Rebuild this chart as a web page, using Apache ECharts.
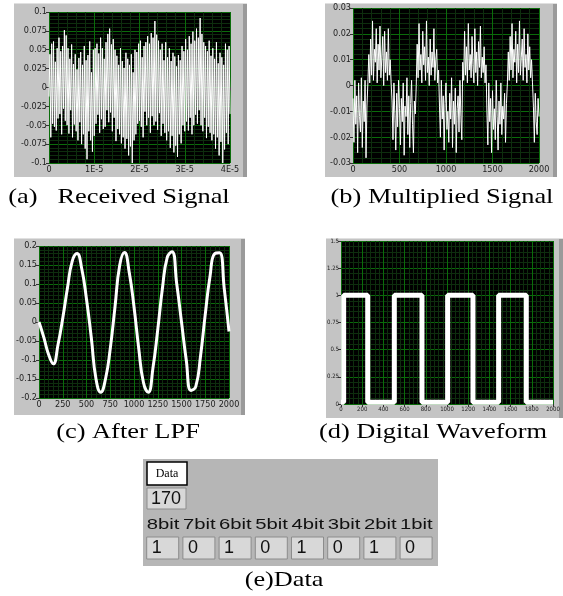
<!DOCTYPE html>
<html><head><meta charset="utf-8">
<script src="https://cdn.jsdelivr.net/npm/echarts/dist/echarts.min.js"></script>
<style>html,body{margin:0;padding:0;background:#fff}#c{width:563px;height:596px}</style>
</head><body><div id="c"></div>
<script>
// ---------- (a) Received Signal ----------
const aSampleStep = 2e-7;
const aValues = [
 -0.012, 0.044, -0.066, 0.058, -0.048, 0.061, -0.052, 0.034, -0.057, 0.052,
 -0.041, 0.066, -0.035, 0.048, -0.062, 0.055, -0.028, 0.076, -0.044, 0.069,
 -0.05, 0.052, -0.061, 0.038, -0.03, 0.057, -0.066, 0.031, -0.049, 0.044,
 -0.058, 0.024, -0.07, 0.039, -0.046, 0.047, -0.075, 0.03, -0.062, 0.055,
 -0.081, 0.036, -0.095, 0.043, -0.058, 0.061, -0.07, 0.02, -0.085, 0.05,
 -0.064, 0.052, -0.048, 0.058, -0.036, 0.045, -0.06, 0.066, -0.042, 0.052,
 -0.055, 0.038, -0.052, 0.06, -0.03, 0.071, -0.046, 0.078, -0.033, 0.057,
 -0.058, 0.064, -0.04, 0.05, -0.071, 0.042, -0.055, 0.03, -0.062, 0.052,
 -0.074, 0.035, -0.066, 0.026, -0.081, 0.046, -0.068, 0.038, -0.09, 0.03,
 -0.078, 0.044, -0.1, 0.02, -0.07, 0.05, -0.062, 0.047, -0.048, 0.058,
 -0.044, 0.062, -0.052, 0.04, -0.066, 0.055, -0.032, 0.06, -0.05, 0.068,
 -0.04, 0.058, -0.06, 0.072, -0.038, 0.066, -0.05, 0.088, -0.045, 0.07,
 -0.056, 0.062, -0.034, 0.05, -0.064, 0.058, -0.048, 0.036, -0.06, 0.06,
 -0.07, 0.04, -0.058, 0.052, -0.08, 0.035, -0.064, 0.046, -0.086, 0.041,
 -0.077, 0.028, -0.092, 0.043, -0.062, 0.036, -0.074, 0.055, -0.05, 0.048,
 -0.058, 0.064, -0.045, 0.05, -0.057, 0.068, -0.04, 0.058, -0.062, 0.074,
 -0.05, 0.062, -0.036, 0.078, -0.048, 0.066, -0.03, 0.092, -0.05, 0.071,
 -0.058, 0.06, -0.04, 0.055, -0.067, 0.048, -0.052, 0.062, -0.06, 0.042,
 -0.07, 0.052, -0.062, 0.038, -0.081, 0.06, -0.066, 0.032, -0.09, 0.046,
 -0.072, 0.04, -0.1, 0.03, -0.082, 0.058, -0.06, 0.05, -0.075, 0.055, -0.035
];
const aXTickLabels = ['0', '1E-5', '2E-5', '3E-5', '4E-5'];
const aYTickLabels = ['-0.1', '-0.075', '-0.05', '-0.025', '0', '0.025', '0.05', '0.075', '0.1'];

// ---------- (b) Multiplied Signal ----------
const bSampleStep = 10;
const bValues = [
 -0.005, -0.022, 0.002, -0.015, -0.004, -0.026, 0.001, -0.012, -0.018, 0.003, -0.024, -0.006, -0.014, 0.002, -0.028, -0.008, 0.001,
 0.012, 0.001, 0.018, 0.004, 0.025, 0.002, 0.014, 0.009, 0.022, 0.001, 0.016, 0.006, 0.023, 0.003, 0.011, 0.019, 0.0, 0.021, 0.005, 0.013, 0.002, 0.022, 0.004, 0.01, 0.001,
 -0.006, -0.021, 0.001, -0.011, -0.025, -0.003, -0.016, 0.002, -0.009, -0.023, -0.005, -0.014, 0.001, -0.027, -0.008, -0.012, 0.003, -0.019, -0.004, -0.024, -0.007, 0.002, -0.015, -0.026, -0.006, -0.011, 0.0,
 0.016, 0.003, 0.024, 0.006, 0.012, 0.001, 0.021, 0.008, 0.015, 0.002, 0.025, 0.005, 0.011, 0.0, 0.018, 0.004, 0.013, 0.007, 0.022, 0.002, 0.01, 0.014, 0.001, 0.006,
 -0.008, -0.02, 0.002, -0.013, -0.004, -0.025, -0.007, 0.001, -0.017, -0.01, -0.022, -0.003, -0.013, 0.003, -0.024, -0.006, -0.015, -0.001, -0.026, -0.009, -0.004, -0.018, 0.002, -0.012, -0.021,
 0.009, 0.002, 0.021, 0.004, 0.015, 0.001, 0.024, 0.006, 0.012, 0.003, 0.019, 0.008, 0.001, 0.022, 0.005, 0.013, 0.0, 0.017, 0.007, 0.023, 0.003, 0.011, 0.005, 0.015, 0.001, 0.008,
 -0.01, -0.023, 0.001, -0.014, -0.005, -0.026, -0.002, -0.017, -0.009, -0.021, 0.002, -0.012, -0.025, -0.006, -0.015, 0.001, -0.019, -0.008, -0.013, -0.003, -0.022, -0.007, 0.001,
 0.013, 0.002, 0.019, 0.006, 0.024, 0.003, 0.014, 0.009, 0.021, 0.001, 0.016, 0.005, 0.025, 0.004, 0.011, 0.018, 0.002, 0.022, 0.007, 0.012, 0.001, 0.02, 0.006, 0.015, 0.003, 0.01, 0.001,
 -0.008, -0.022, -0.003, -0.014, -0.019, -0.005, -0.012
];
const bXTickLabels = ['0', '500', '1000', '1500', '2000'];
const bYTickLabels = ['-0.03', '-0.02', '-0.01', '0', '0.01', '0.02', '0.03'];

// ---------- (c) After LPF ----------
const cX = [0,50,100,150,200,250,300,350,400,450,500,550,600,650,700,750,800,850,900,950,1000,
            1050,1100,1150,1200,1250,1300,1350,1400,1450,1500,1550,1600,1650,1700,1750,1800,1850,1900,1950,2000];
const cValues = [0, -0.04, -0.085, -0.11, -0.06, 0.01, 0.09, 0.16, 0.18, 0.14, 0.06, -0.04, -0.15, -0.185, -0.15, -0.07, 0.04, 0.15, 0.183, 0.13, 0.04,
                 -0.07, -0.16, -0.185, -0.12, -0.02, 0.09, 0.17, 0.185, 0.1, 0.0, -0.1, -0.18, -0.17, -0.09, 0.02, 0.12, 0.18, 0.182, 0.088, -0.025];
const cXTickLabels = ['0', '250', '500', '750', '1000', '1250', '1500', '1750', '2000'];
const cYTickLabels = ['-0.2', '-0.15', '-0.1', '-0.05', '0', '0.05', '0.1', '0.15', '0.2'];

// ---------- (d) Digital Waveform ----------
const dX = [0, 25, 25, 252, 252, 503, 503, 764, 764, 1006, 1006, 1245, 1245, 1487, 1487, 1748, 1748, 2000];
const dValues = [0.015, 0.015, 1, 1, 0.015, 0.015, 1, 1, 0.015, 0.015, 1, 1, 0.015, 0.015, 1, 1, 0.015, 0.015];
const dXTickLabels = ['0', '200', '400', '600', '800', '1000', '1200', '1400', '1600', '1800', '2000'];
const dYTickLabels = ['0', '0.25', '0.5', '0.75', '1', '1.25', '1.5'];

// ---------- (e) Data ----------
const eTitle = 'Data';
const eValue = '170';
const eBitNames = ['8bit', '7bit', '6bit', '5bit', '4bit', '3bit', '2bit', '1bit'];
const eBits = ['1', '0', '1', '0', '1', '0', '1', '0'];

const captions = ['(a)   Received Signal', '(b) Multiplied Signal', '(c) After LPF', '(d) Digital Waveform', '(e)Data'];

// ---------- build ----------
const MAJOR = '#0a6c0a', MINOR = '#0e2e0e';
const SANS = '"Liberation Sans Narrow","DejaVu Sans Condensed","Liberation Sans",Arial,sans-serif';
const SERIF = '"Liberation Serif","Times New Roman",serif';

function axisPair(gi, xr, xLabels, yr, yLabels, fs) {
  const common = {
    gridIndex: gi, type: 'value',
    axisLine: { show: false },
    axisTick: { show: true, length: 3, lineStyle: { color: '#333', width: 1 } },
    splitLine: { show: true, lineStyle: { color: MAJOR, width: 1 } },
    minorTick: { show: false, splitNumber: 5 },
    minorSplitLine: { show: true, lineStyle: { color: MINOR, width: 1 } }
  };
  const x = Object.assign({}, common, {
    min: xr[0], max: xr[1], interval: xr[2],
    axisLabel: { fontSize: fs, color: '#222', margin: 2, fontFamily: SANS, showMinLabel: true, showMaxLabel: true,
      formatter: v => xLabels[Math.round((v - xr[0]) / xr[2])] ?? '' }
  });
  const y = Object.assign({}, common, {
    min: yr[0], max: yr[1], interval: yr[2],
    axisLabel: { fontSize: fs, color: '#222', margin: 2, fontFamily: SANS, showMinLabel: true, showMaxLabel: true,
      formatter: v => yLabels[Math.round((v - yr[0]) / yr[2])] ?? '' }
  });
  return [x, y];
}

const A = axisPair(0, [0, 4e-5, 1e-5], aXTickLabels, [-0.1, 0.1, 0.025], aYTickLabels, 9);
const B = axisPair(1, [0, 2000, 500], bXTickLabels, [-0.03, 0.03, 0.01], bYTickLabels, 9);
const C = axisPair(2, [0, 2000, 250], cXTickLabels, [-0.2, 0.2, 0.05], cYTickLabels, 9);
const D = axisPair(3, [0, 2000, 200], dXTickLabels, [0, 1.5, 0.25], dYTickLabels, 6);

const gridBase = { show: true, backgroundColor: '#000', borderWidth: 0, containLabel: false };
const grids = [
  Object.assign({ left: 49, top: 12, width: 181, height: 151 }, gridBase),
  Object.assign({ left: 353, top: 8, width: 186, height: 155 }, gridBase),
  Object.assign({ left: 39, top: 246, width: 190, height: 152 }, gridBase),
  Object.assign({ left: 341, top: 241, width: 212, height: 163 }, gridBase)
];

const lineSeries = (gi, data, w, smooth) => ({
  type: 'line', xAxisIndex: gi, yAxisIndex: gi, data: data, showSymbol: false, symbol: 'none',
  smooth: smooth || false, lineStyle: { color: '#fff', width: w }, animation: false, silent: true
});

const aData = aValues.map((v, i) => [i * aSampleStep, v]);
const bData = bValues.map((v, i) => [i * bSampleStep, v]);
const cData = cValues.map((v, i) => [cX[i], v]);
const dData = dValues.map((v, i) => [dX[i], v]);

// panels + captions + data panel
const graphics = [];
function panel(x, y, w, h) {
  graphics.push({ type: 'rect', z: -10, shape: { x, y, width: w, height: h }, style: { fill: '#c4c4c4' } });
  graphics.push({ type: 'rect', z: -9, shape: { x: x + w - 4, y, width: 4, height: h }, style: { fill: '#9a9a9a' } });
  graphics.push({ type: 'rect', z: -9, shape: { x, y, width: w, height: 1 }, style: { fill: '#e0e0e0' } });
}
panel(14, 3, 233, 174);
panel(325, 3, 232, 174);
panel(14, 238, 231, 177);
panel(326, 238, 237, 180);

function caption(txt, cx, cy, fs, sx) {
  graphics.push({ type: 'text', x: cx, y: cy, scaleX: sx, style: { text: txt, x: 0, y: 0, textAlign: 'center', textVerticalAlign: 'middle', font: fs + 'px ' + SERIF, fill: '#000' } });
}
caption(captions[0], 119, 197, 22, 1.2);
caption(captions[1], 442, 197, 22, 1.2);
caption(captions[2], 128, 432, 22, 1.2);
caption(captions[3], 433, 432, 22, 1.2);
caption(captions[4], 284, 580, 21, 1.25);

// data panel (e)
graphics.push({ type: 'rect', z: -10, shape: { x: 143, y: 459, width: 295, height: 107 }, style: { fill: '#b6b6b6' } });
graphics.push({ type: 'rect', shape: { x: 147, y: 462, width: 40, height: 23 }, style: { fill: '#fff', stroke: '#000', lineWidth: 1.5 } });
graphics.push({ type: 'text', x: 167, y: 474, style: { text: eTitle, textAlign: 'center', textVerticalAlign: 'middle', font: '12px ' + SERIF, fill: '#000' } });
graphics.push({ type: 'rect', shape: { x: 147, y: 488, width: 39, height: 21 }, style: { fill: '#d8d8d8', stroke: '#8c8c8c', lineWidth: 1 } });
graphics.push({ type: 'text', x: 151, y: 499, style: { text: eValue, textAlign: 'left', textVerticalAlign: 'middle', font: '18px "Liberation Sans",Arial,sans-serif', fill: '#111' } });
eBitNames.forEach((nm, k) => {
  const bx = 146.7 + k * 36.2;
  graphics.push({ type: 'text', x: bx, y: 525, scaleX: 1.35, style: { text: nm, x: 0, y: 0, textAlign: 'left', textVerticalAlign: 'middle', font: '15px "Liberation Sans",Arial,sans-serif', fill: '#111' } });
  graphics.push({ type: 'rect', shape: { x: bx, y: 537, width: 32, height: 22 }, style: { fill: '#d8d8d8', stroke: '#8c8c8c', lineWidth: 1 } });
  graphics.push({ type: 'text', x: bx + 5, y: 548, style: { text: eBits[k], textAlign: 'left', textVerticalAlign: 'middle', font: '18px "Liberation Sans",Arial,sans-serif', fill: '#111' } });
});

const chart = echarts.init(document.getElementById('c'), null, { renderer: 'canvas' });
chart.setOption({
  animation: false,
  backgroundColor: '#fff',
  grid: grids,
  xAxis: [A[0], B[0], C[0], D[0]],
  yAxis: [A[1], B[1], C[1], D[1]],
  series: [
    lineSeries(0, aData, 1),
    lineSeries(1, bData, 1),
    lineSeries(2, cData, 3, 0.5),
    lineSeries(3, dData, 5)
  ],
  graphic: { elements: graphics }
});
</script></body></html>
